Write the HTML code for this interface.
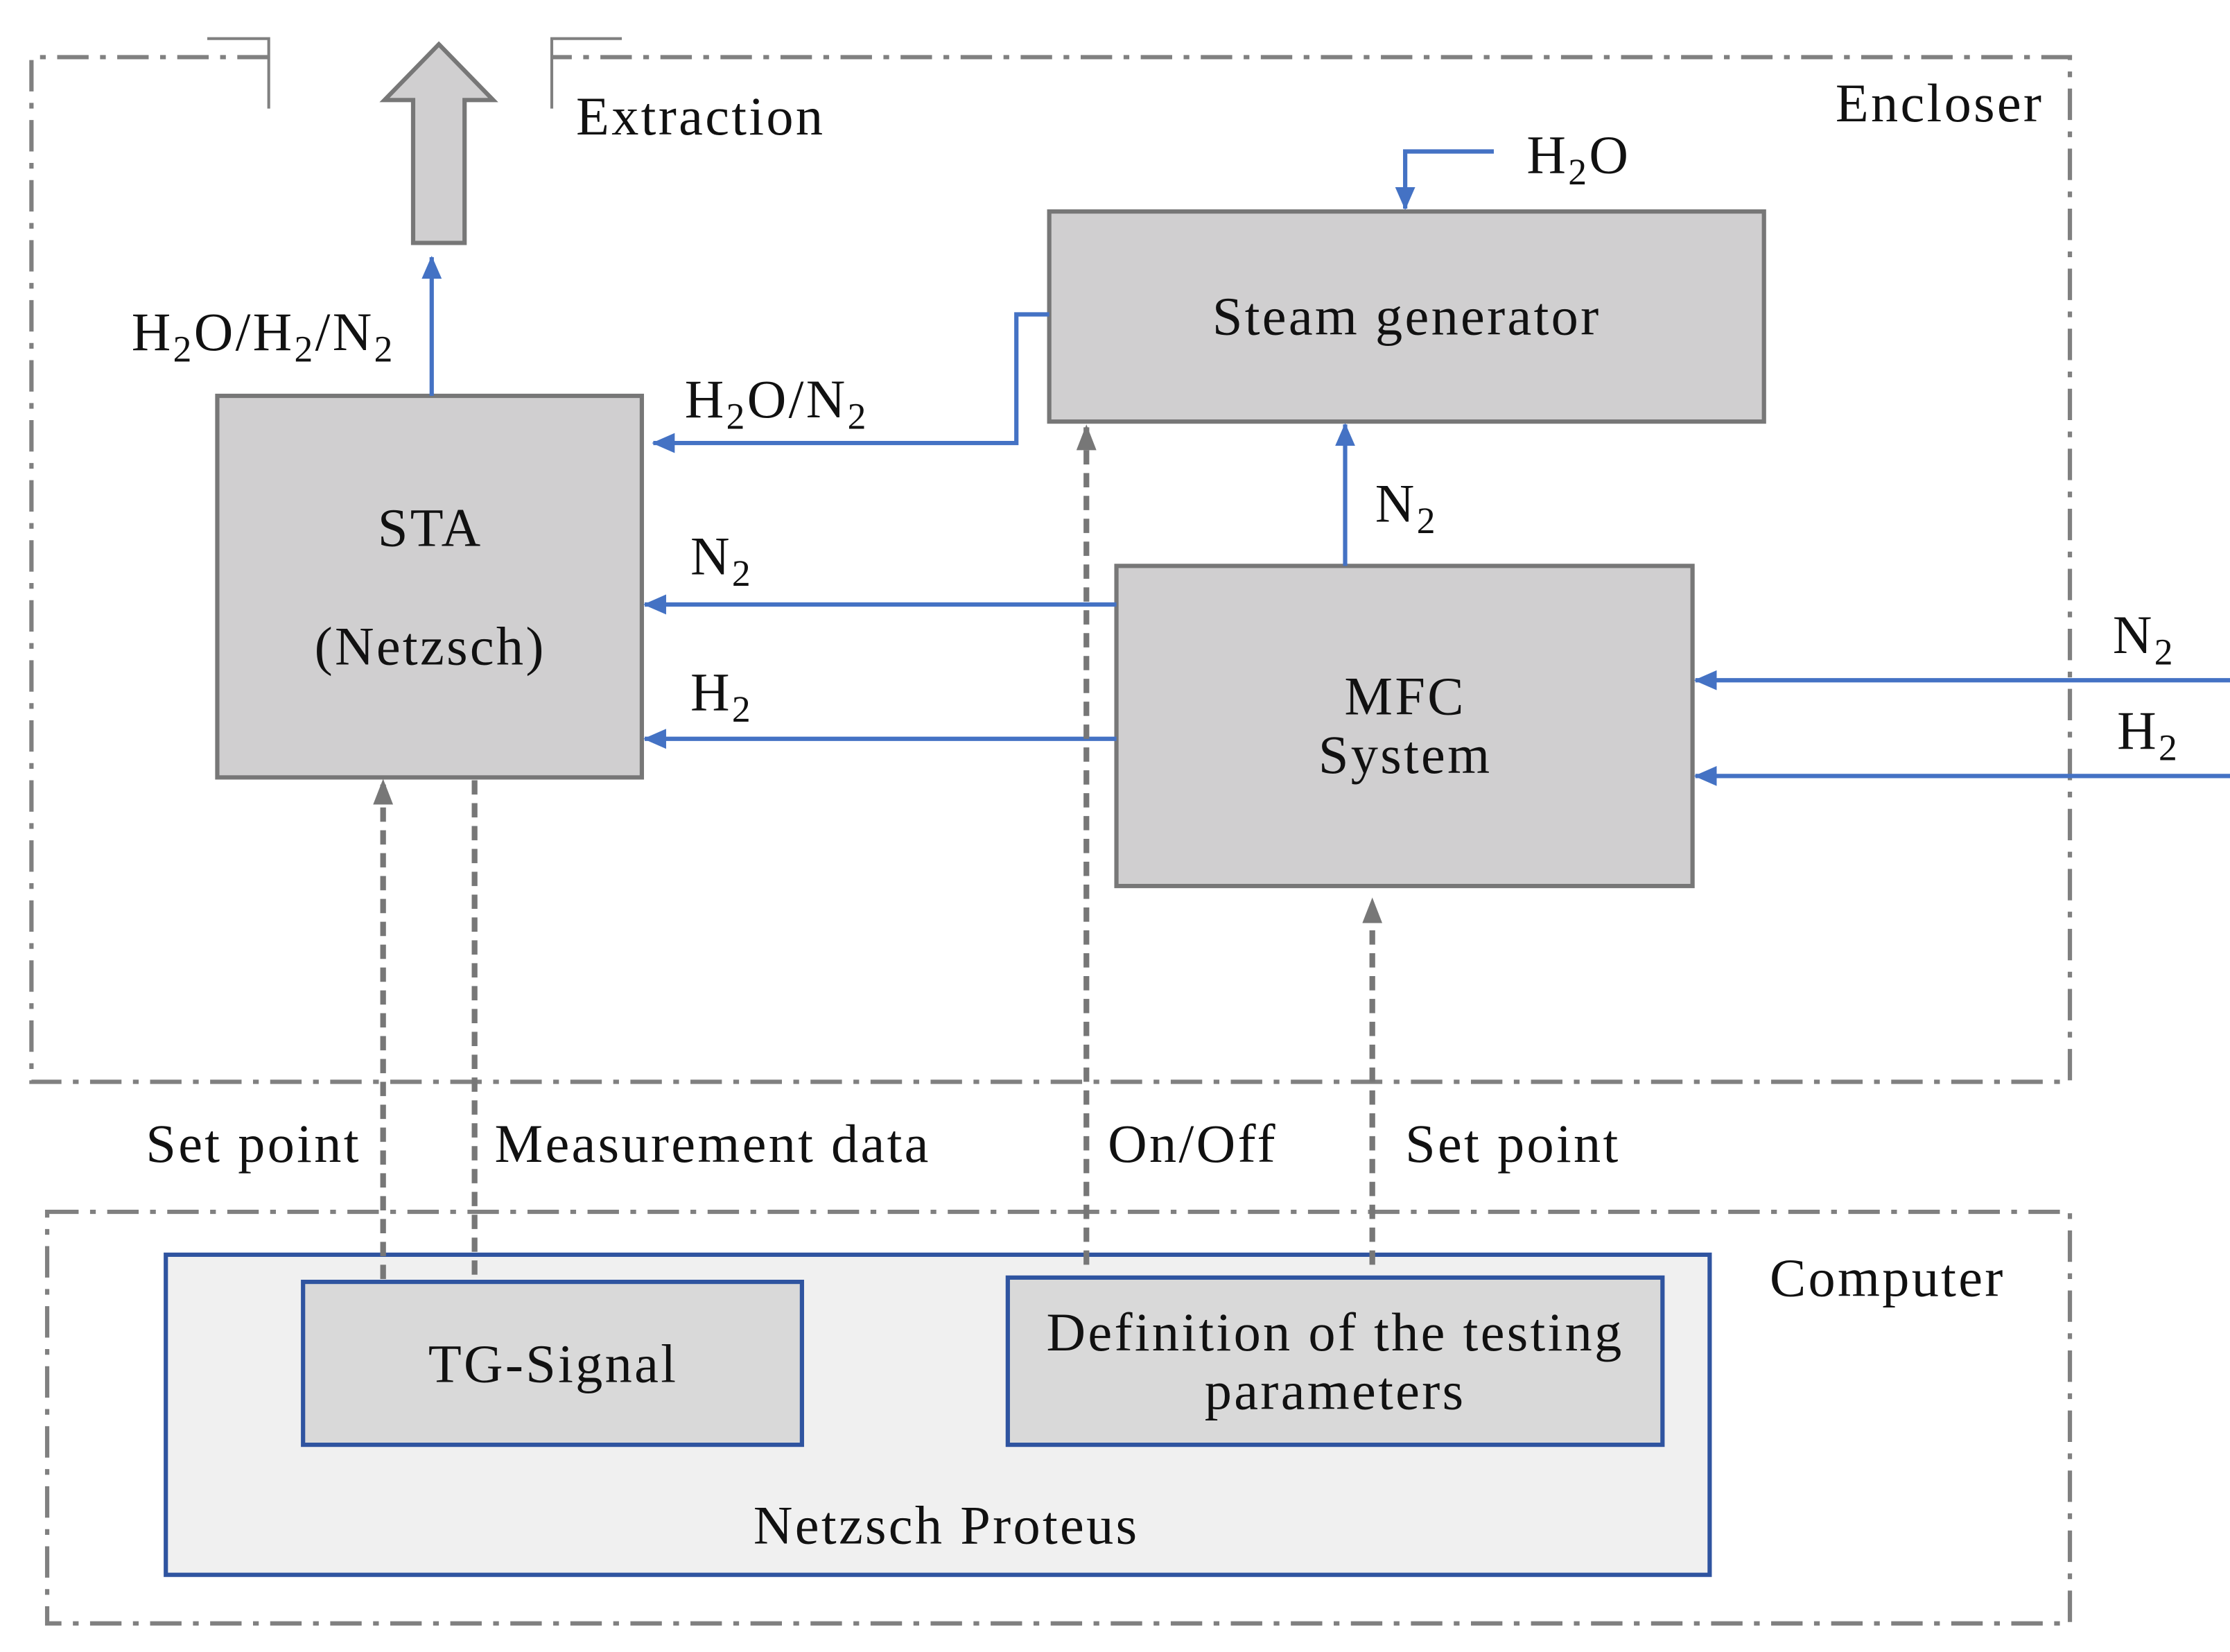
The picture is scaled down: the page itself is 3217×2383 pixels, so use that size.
<!DOCTYPE html>
<html><head><meta charset="utf-8"><style>html,body{margin:0;padding:0;background:#fff}svg{display:block}text{font-family:"Liberation Serif",serif;fill:#111;letter-spacing:1.6px}</style></head>
<body>
<svg width="3217" height="2383" viewBox="0 0 1560 1156" preserveAspectRatio="none" xmlns="http://www.w3.org/2000/svg">
<defs>
<marker id="ab" markerWidth="16" markerHeight="14" refX="15" refY="7" orient="auto" markerUnits="userSpaceOnUse" viewBox="0 0 16 14"><path d="M0,0 L16,7 L0,14 z" fill="#4472c4"/></marker>
<marker id="ag" markerWidth="18" markerHeight="14" refX="17" refY="7" orient="auto" markerUnits="userSpaceOnUse" viewBox="0 0 18 14"><path d="M0,0 L18,7 L0,14 z" fill="#777"/></marker>
</defs>
<g fill="none" stroke="#808080" stroke-width="3" stroke-dasharray="22,8,4,8">
<path d="M188,40 L22,40 L22,757 L1448,757 L1448,40 L386,40"/>
<rect x="33" y="848" width="1415" height="288"/>
</g>
<g fill="none" stroke="#808080" stroke-width="2">
<path d="M145,27 L188,27 L188,76"/>
<path d="M435,27 L386,27 L386,76"/>
</g>
<path d="M289,170 L289,70 L269,70 L307,31 L345,70 L325,70 L325,170 Z" fill="#d0cfd0" stroke="#777" stroke-width="3"/>
<text x="403" y="94" font-size="38">Extraction</text>
<text x="1284" y="85" font-size="38">Encloser</text>
<g fill="#d0cfd0" stroke="#777" stroke-width="3">
<rect x="734" y="148" width="500" height="147"/>
<rect x="152" y="277" width="297" height="267"/>
<rect x="781" y="396" width="403" height="224"/>
</g>
<g font-size="38" text-anchor="middle">
<text x="984" y="234">Steam generator</text>
<text x="301" y="382">STA</text>
<text x="301" y="465">(Netzsch)</text>
<text x="983" y="500">MFC</text>
<text x="983" y="541">System</text>
</g>
<g fill="none" stroke="#4472c4" stroke-width="3">
<path d="M1045,106 L983,106 L983,146" marker-end="url(#ab)"/>
<path d="M302,277 L302,180" marker-end="url(#ab)"/>
<path d="M734,220 L711,220 L711,310 L457,310" marker-end="url(#ab)"/>
<path d="M941,396 L941,297" marker-end="url(#ab)"/>
<path d="M781,423 L451,423" marker-end="url(#ab)"/>
<path d="M781,517 L451,517" marker-end="url(#ab)"/>
<path d="M1560,476 L1186,476" marker-end="url(#ab)"/>
<path d="M1560,543 L1186,543" marker-end="url(#ab)"/>
</g>
<g font-size="38">
<text x="1068" y="121">H<tspan font-size="26" dy="8">2</tspan><tspan dy="-8">O</tspan></text>
<text x="92" y="245">H<tspan font-size="26" dy="8">2</tspan><tspan dy="-8">O/H</tspan><tspan font-size="26" dy="8">2</tspan><tspan dy="-8">/N</tspan><tspan font-size="26" dy="8">2</tspan></text>
<text x="479" y="292">H<tspan font-size="26" dy="8">2</tspan><tspan dy="-8">O/N</tspan><tspan font-size="26" dy="8">2</tspan></text>
<text x="962" y="365">N<tspan font-size="26" dy="8">2</tspan></text>
<text x="483" y="402">N<tspan font-size="26" dy="8">2</tspan></text>
<text x="483" y="497">H<tspan font-size="26" dy="8">2</tspan></text>
<text x="1478" y="457">N<tspan font-size="26" dy="8">2</tspan></text>
<text x="1481" y="524">H<tspan font-size="26" dy="8">2</tspan></text>
<text x="102" y="813">Set point</text>
<text x="346" y="813">Measurement data</text>
<text x="775" y="813">On/Off</text>
<text x="983" y="813">Set point</text>
<text x="1238" y="907">Computer</text>
</g>
<rect x="116" y="878" width="1080" height="224" fill="#f0f0f0" stroke="#2f54a0" stroke-width="3"/>
<rect x="212" y="897" width="349" height="114" fill="#d9d9d9" stroke="#2f54a0" stroke-width="3"/>
<rect x="705" y="894" width="458" height="117" fill="#d9d9d9" stroke="#2f54a0" stroke-width="3"/>
<g font-size="38" text-anchor="middle">
<text x="387" y="967">TG-Signal</text>
<text x="934" y="945">Definition of the testing</text>
<text x="934" y="986">parameters</text>
<text x="662" y="1080">Netzsch Proteus</text>
</g>
<g fill="none" stroke="#777" stroke-width="4" stroke-dasharray="10,6">
<path d="M268,895 L268,546" marker-end="url(#ag)"/>
<path d="M332,546 L332,895"/>
<path d="M760,885 L760,298" marker-end="url(#ag)"/>
<path d="M960,885 L960,629" marker-end="url(#ag)"/>
</g>
</svg>
</body></html>
